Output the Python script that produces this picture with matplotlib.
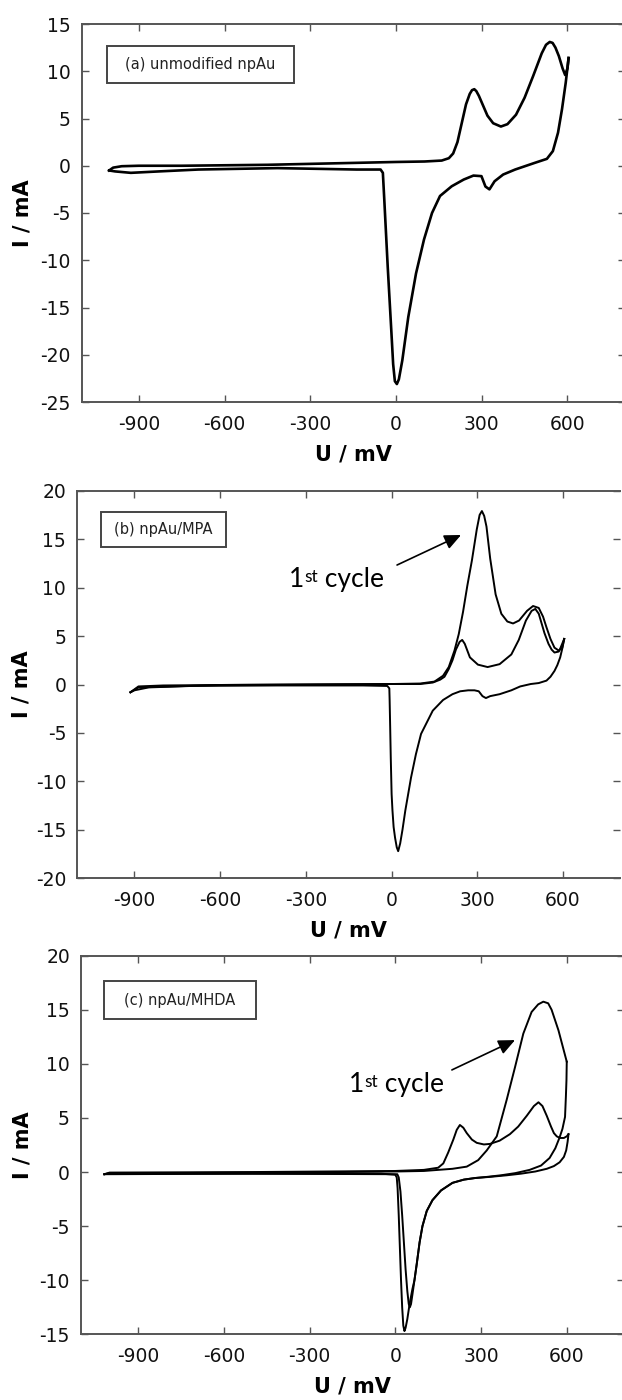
import numpy as np
import matplotlib
matplotlib.use("Agg")
import matplotlib.pyplot as plt
from matplotlib.patches import Rectangle

# ---- data (U in mV, I in mA) ----

# (a) unmodified npAu
a_fwd_U = [-1004, -990, -960, -900, -750, -600, -450, -300, -150, 0, 100, 160, 185, 200, 215, 230,
           245, 258, 266, 274, 281, 290, 300, 320, 340, 367, 390, 420, 450, 480, 510, 525, 538, 548,
           558, 570, 583, 592, 600, 604]
a_fwd_I = [-0.5, -0.2, -0.05, 0.0, 0.0, 0.05, 0.1, 0.2, 0.3, 0.4, 0.45, 0.55, 0.8, 1.3, 2.5, 4.5,
           6.5, 7.6, 8.0, 8.1, 7.9, 7.4, 6.7, 5.3, 4.5, 4.15, 4.4, 5.4, 7.2, 9.5, 11.9, 12.8, 13.1,
           13.0, 12.5, 11.6, 10.3, 9.6, 10.3, 11.4]
a_rev_U = [604, 594, 581, 567, 549, 528, 486, 417, 375, 345, 327, 313, 299, 271, 237, 195, 154, 126,
           98, 70, 43, 22, 10, 3, -4, -10, -16, -29, -41, -46, -54, -138, -415, -692, -830, -928,
           -983, -1004]
a_rev_I = [11.4, 8.8, 6.0, 3.5, 1.55, 0.73, 0.31, -0.4, -0.93, -1.64, -2.5, -2.2, -1.1, -1.04, -1.46,
           -2.17, -3.2, -5.0, -7.8, -11.4, -16.0, -20.6, -22.6, -23.1, -22.8, -21.0, -17.7, -10.7,
           -3.6, -0.75, -0.4, -0.4, -0.25, -0.4, -0.6, -0.75, -0.6, -0.5]

# (b) npAu/MPA
b_first_U = [-914, -886, -800, -600, -300, 0, 100, 150, 180, 200, 220, 235, 250, 265, 281, 298, 308,
             316, 324, 332, 345, 364, 384, 405, 425, 446, 474, 495, 515, 530, 542, 556, 570, 585,
             597, 604]
b_first_I = [-0.8, -0.2, -0.1, -0.05, 0.0, 0.05, 0.1, 0.3, 0.9, 1.8, 3.5, 5.2, 7.5, 10.2, 12.8, 16.0,
             17.5, 17.9, 17.4, 16.3, 13.0, 9.3, 7.3, 6.5, 6.3, 6.6, 7.6, 8.1, 7.9, 7.0, 5.9, 4.7,
             3.8, 3.5, 3.8, 4.7]
b_later_U = [-914, -886, -600, -300, 0, 100, 144, 170, 185, 200, 213, 225, 238, 247, 256, 274, 302,
             336, 378, 419, 445, 470, 490, 503, 515, 522, 535, 549, 560, 570, 585, 590, 604]
b_later_I = [-0.8, -0.3, -0.05, 0.0, 0.05, 0.05, 0.2, 0.5, 0.8, 1.6, 2.5, 3.6, 4.4, 4.6, 4.2, 2.8,
             2.05, 1.8, 2.1, 3.1, 4.6, 6.6, 7.6, 7.8, 7.3, 6.6, 5.3, 4.2, 3.6, 3.3, 3.4, 3.7, 4.7]
b_rev_U = [604, 598, 590, 580, 570, 556, 542, 515, 487, 450, 419, 378, 345, 330, 318, 305, 290, 268,
           240, 213, 180, 144, 103, 85, 68, 58, 48, 38, 30, 23, 18, 12, 7, 3, 0, -3, -5, -7, -8, -15,
           -100, -400, -700, -850, -900, -914]
b_rev_I = [4.7, 3.8, 2.8, 2.0, 1.4, 0.8, 0.4, 0.15, 0.05, -0.2, -0.6, -1.0, -1.2, -1.4, -1.2, -0.7,
           -0.6, -0.6, -0.7, -1.0, -1.6, -2.7, -5.1, -7.2, -9.6, -11.3, -13.0, -15.0, -16.4, -17.2,
           -16.8, -15.8, -14.7, -13.0, -11.3, -7.5, -4.4, -1.5, -0.4, -0.15, -0.1, -0.1, -0.15, -0.3,
           -0.6, -0.8]

# (c) npAu/MHDA
c_first_U = [-1018, -1000, -800, -500, -200, 0, 100, 200, 250, 290, 320, 355, 390, 419, 448, 477,
             500, 518, 535, 547, 571, 600]
c_first_I = [-0.2, -0.1, -0.1, -0.05, 0.0, 0.05, 0.1, 0.3, 0.5, 1.1, 2.0, 3.3, 6.7, 9.7, 12.8, 14.8,
             15.5, 15.75, 15.6, 15.0, 13.1, 10.2]
c_first_rev_U = [600, 599, 597, 594, 585, 575, 560, 540, 510, 470, 420, 370, 320, 280, 240, 200, 160,
                 130, 110, 95, 85, 75, 67, 60, 50, 42, 36, 32, 28, 24, 20, 16, 12, 8, 5, 0, -50,
                 -500, -1000, -1018]
c_first_rev_I = [10.2, 8.5, 7.0, 5.1, 4.0, 3.2, 2.2, 1.3, 0.6, 0.2, -0.1, -0.3, -0.45, -0.55, -0.7,
                 -1.0, -1.7, -2.6, -3.6, -5.0, -6.5, -8.5, -10.0, -10.8, -12.2, -13.6, -14.4, -14.7,
                 -14.2, -12.5, -10.0, -7.0, -4.0, -1.5, -0.5, -0.25, -0.15, -0.15, -0.15, -0.2]
c_later_U = [-1018, -1000, -500, 0, 100, 150, 168, 185, 203, 215, 226, 238, 250, 268, 285, 310, 331,
             365, 401, 430, 460, 485, 501, 515, 530, 545, 555, 565, 576, 590, 600, 606]
c_later_I = [-0.2, -0.05, 0.0, 0.1, 0.2, 0.4, 0.8, 1.8, 3.0, 3.9, 4.35, 4.1, 3.6, 3.0, 2.7, 2.55, 2.6,
             2.9, 3.5, 4.2, 5.2, 6.1, 6.45, 6.1, 5.2, 4.2, 3.6, 3.3, 3.15, 3.15, 3.3, 3.5]
c_later_rev_U = [606, 603, 598, 590, 575, 555, 530, 490, 440, 390, 330, 280, 240, 200, 160, 130, 110,
                 95, 85, 75, 67, 60, 55, 51, 47, 42, 36, 30, 24, 18, 12, 7, 0, -500, -1018]
c_later_rev_I = [3.5, 2.8, 2.0, 1.4, 0.9, 0.55, 0.3, 0.05, -0.15, -0.3, -0.45, -0.55, -0.7, -1.0,
                 -1.7, -2.6, -3.6, -5.0, -6.5, -8.5, -10.0, -11.3, -12.2, -12.5, -12.2, -11.0, -9.0,
                 -6.5, -4.0, -1.8, -0.5, -0.2, -0.2, -0.15, -0.2]

panel_labels = ["(a) unmodified npAu", "(b) npAu/MPA", "(c) npAu/MHDA"]
x_ticks = [-900, -600, -300, 0, 300, 600]

# ---- figure ----
W, H = 622, 1400
plt.rcParams['font.family'] = 'DejaVu Sans'
plt.rcParams['axes.unicode_minus'] = False
fig = plt.figure(figsize=(W / 100, H / 100), dpi=100)

PX_PER_MV = 542.9 / 1900.0
spine_col = '#555555'


def make_axes(left, top, bottom, ylim, ystep):
    ax = fig.add_axes([left / W, 1 - bottom / H, 1900 * PX_PER_MV / W, (bottom - top) / H])
    ax.set_xlim(-1100, 800)
    ax.set_ylim(*ylim)
    ax.set_xticks(x_ticks)
    ax.set_yticks(np.arange(ylim[0], ylim[1] + 0.1, ystep))
    ax.spines['right'].set_visible(False)
    for s in ['left', 'top', 'bottom']:
        ax.spines[s].set_color(spine_col)
        ax.spines[s].set_linewidth(1.4)
    ax.tick_params(direction='in', length=5, width=1.0, color=spine_col,
                   top=True, right=True, labelsize=13.5, labelcolor='#111111')
    ax.tick_params(axis='x', pad=9)
    ax.tick_params(axis='y', pad=8)
    ax.set_xlabel('U / mV', fontsize=15, fontweight='bold')
    ax.set_ylabel('I / mA', fontsize=15, fontweight='bold')
    h = bottom - top
    ax.xaxis.set_label_coords(0.5, -52 / h)
    ax.xaxis.label.set_va('center')
    ax.yaxis.set_label_coords(-(left - 22) / (1900 * PX_PER_MV), 0.5)
    ax.yaxis.label.set_va('center')
    return ax


def label_box(x0, x1, y0, y1, text):
    fig.add_artist(Rectangle((x0 / W, 1 - y1 / H), (x1 - x0) / W, (y1 - y0) / H,
                             transform=fig.transFigure, fill=False,
                             edgecolor='#444444', linewidth=1.4))
    fig.text((x0 + x1) / 2 / W, 1 - (y0 + y1) / 2 / H, text, ha='center', va='center',
             fontsize=10.5, color='#222222')


def first_cycle_note(ax, tx, ty, tail, head):
    ax.annotate('', xy=head, xytext=tail,
                arrowprops=dict(arrowstyle='-|>,head_length=1.0,head_width=0.45',
                                color='black', lw=1.2, shrinkA=0, shrinkB=0))
    t1 = ax.text(tx, ty, '1', fontsize=19, family='Lato', ha='left', va='baseline')
    t2 = ax.annotate('st', xy=(1, 0.92), xycoords=t1, fontsize=12.5, family='Lato',
                     ha='left', va='top')
    ax.annotate(' cycle', xy=(1, 0), xycoords=(t2, t1), fontsize=19, family='Lato',
                ha='left', va='bottom')


lw = 1.4

# panel (a)
ax_a = make_axes(81.7, 24, 402, (-25, 15), 5)
ax_a.plot(a_fwd_U, a_fwd_I, color='black', lw=1.9)
ax_a.plot(a_rev_U, a_rev_I, color='black', lw=1.9)
label_box(107, 294, 45.7, 83, panel_labels[0])

# panel (b)
ax_b = make_axes(77.3, 490.7, 878.3, (-20, 20), 5)
ax_b.plot(b_first_U, b_first_I, color='black', lw=lw)
ax_b.plot(b_later_U, b_later_I, color='black', lw=lw)
ax_b.plot(b_rev_U, b_rev_I, color='black', lw=lw)
label_box(100.7, 226, 512.3, 547.3, panel_labels[1])
first_cycle_note(ax_b, -359, 10.06, (19, 12.33), (243, 15.43))

# panel (c)
ax_c = make_axes(81, 955.7, 1334.3, (-15, 20), 5)
ax_c.plot(c_first_U, c_first_I, color='black', lw=lw)
ax_c.plot(c_first_rev_U, c_first_rev_I, color='black', lw=lw)
ax_c.plot(c_later_U, c_later_I, color='black', lw=lw)
ax_c.plot(c_later_rev_U, c_later_rev_I, color='black', lw=lw)
label_box(104, 256, 980.7, 1019.3, panel_labels[2])
first_cycle_note(ax_c, -162, 7.43, (198, 9.44), (419, 12.2))

fig.savefig('out.png', dpi=100)
